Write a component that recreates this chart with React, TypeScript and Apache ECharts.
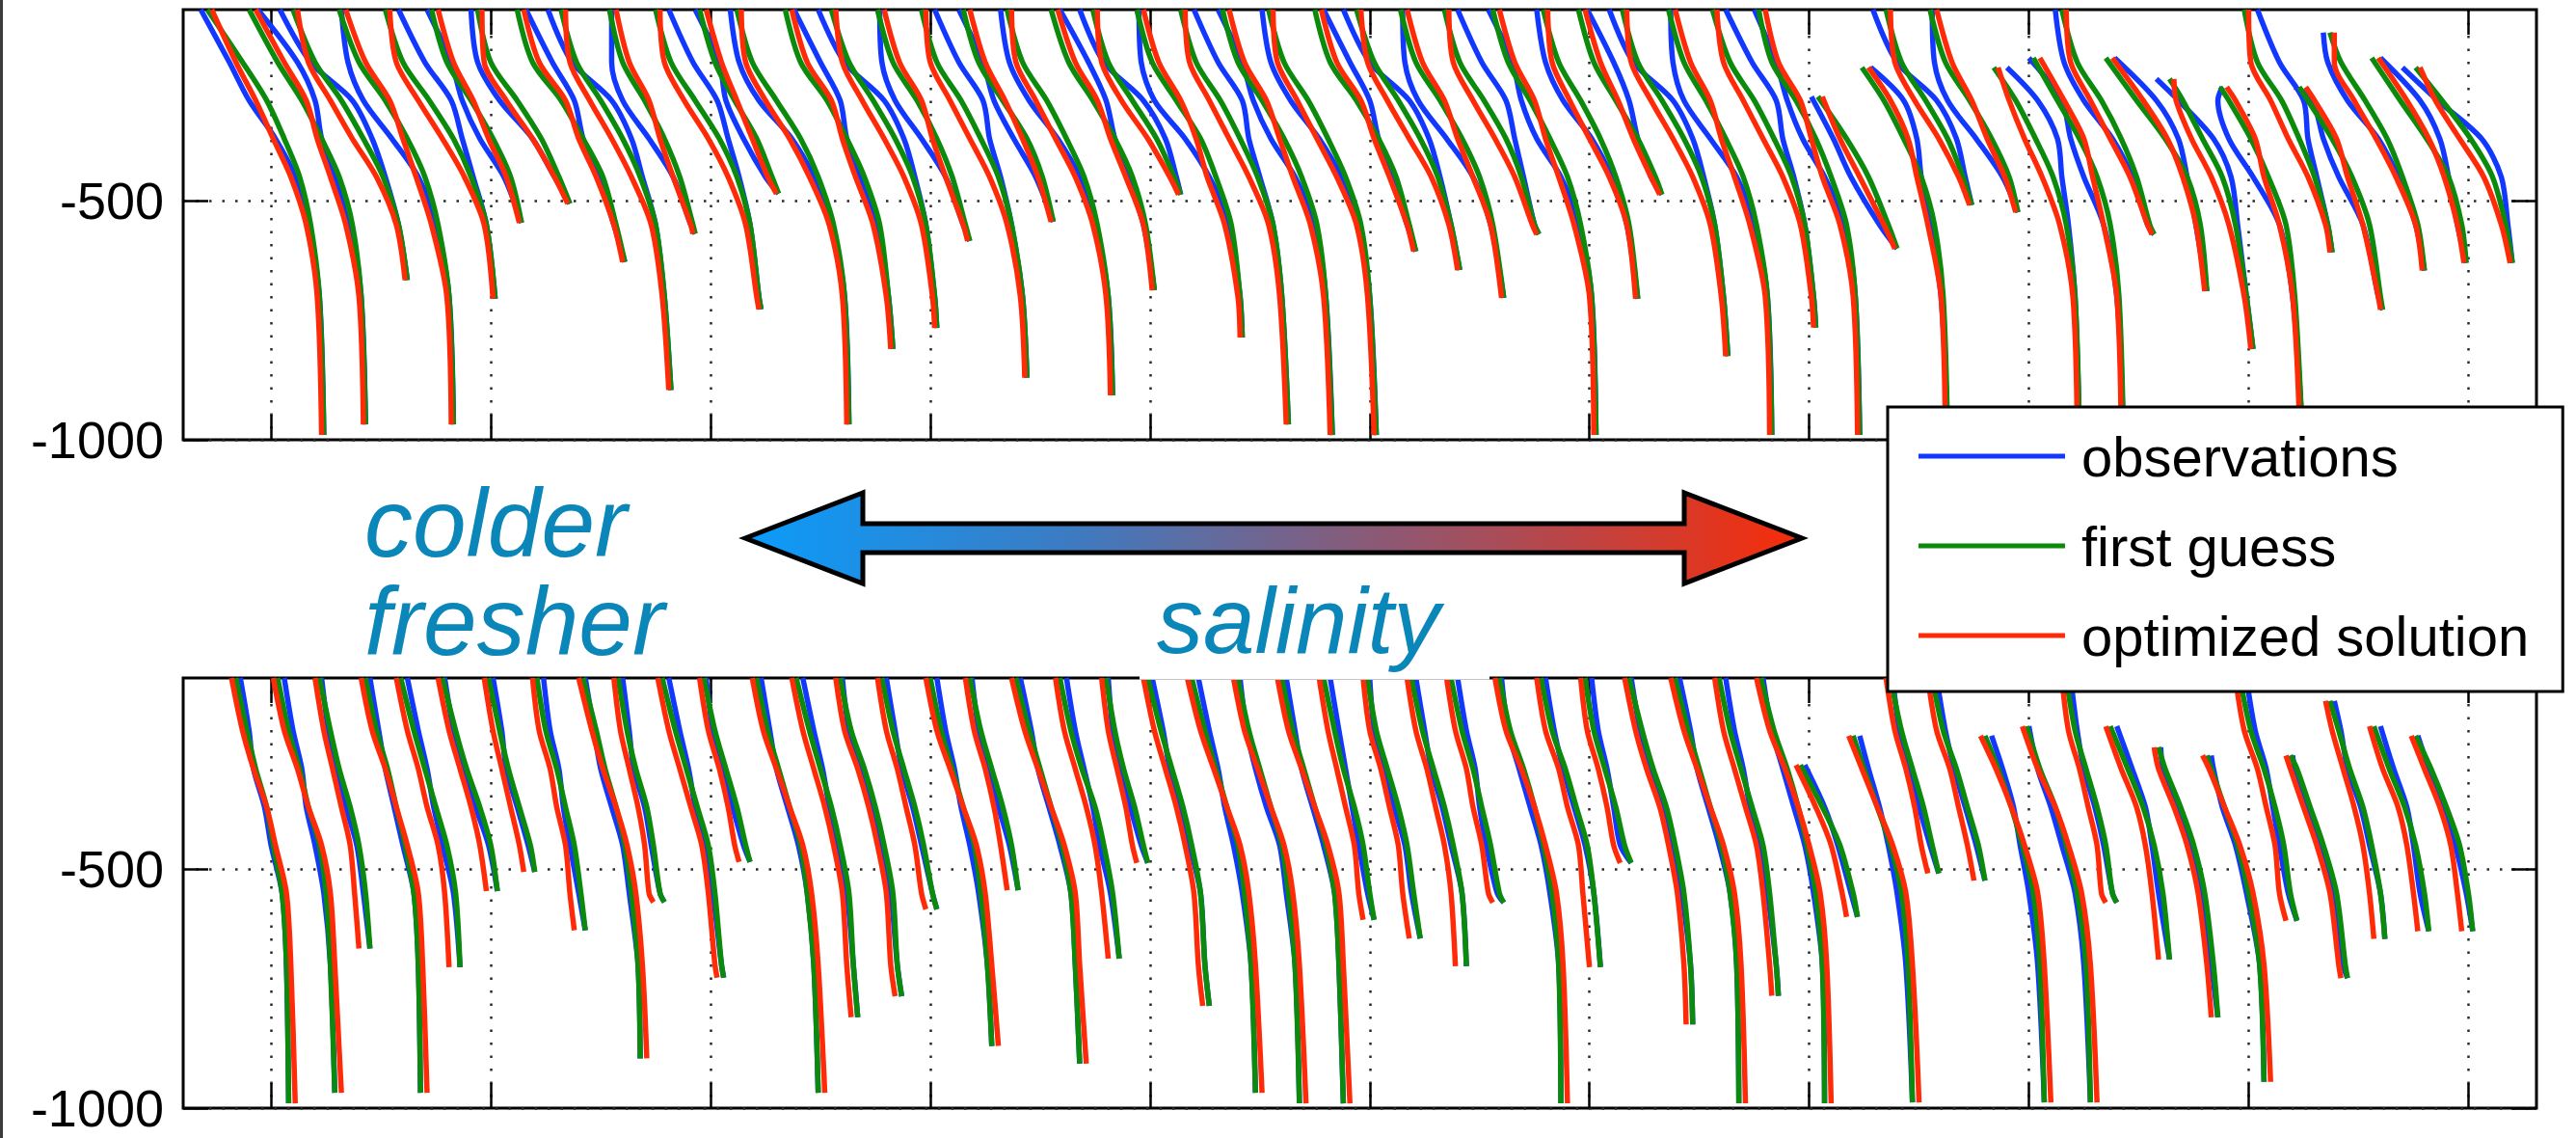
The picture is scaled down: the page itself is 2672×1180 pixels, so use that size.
import React, { useEffect, useRef } from "react";
import * as echarts from "echarts";

// ---- axes ----
const xTickValues = [100, 200, 300, 400, 500, 600, 700, 800, 900, 1000, 1100];
const yTickValues = [-1000, -500];
const depthLevels = [-210, -290, -370, -450, -550, -700];

// ---- casts (shared by both panels) ----
const startDepth = [
  -100, -100, -100, -100, -100, -100, -100, -100, -100, -100, -100, -100, -100, -100, -100, -100, -100, -100,
  -100, -100, -100, -100, -100, -100, -100, -100, -100, -100, -100, -100, -100, -100, -100, -100, -100, -100,
  -282, -221, -100, -100, -221, -201, -100, -201, -245, -262, -100, -262, -148, -201, -221,
];
const endDepth = [
  -990, -968, -666, -968, -705, -546, -506, -628, -896, -569, -727, -485, -968, -810, -766, -584, -870, -544,
  -907, -687, -487, -786, -968, -990, -990, -606, -645, -703, -570, -990, -705, -487, -825, -990, -765, -990,
  -600, -988, -509, -524, -988, -988, -570, -689, -810, -945, -608, -728, -646, -630, -630,
];

// ---- upper panel (temperature) ----
const tempGuess = [
  [71,87,98,106,113,118,122,124],[90,103,114,123,131,137,141,143],[110,120,132,142,151,158,162],
  [131,140,152,162,170,176,181,183],[152,160,172,183,191,198,202],[173,180,191,201,209,214],
  [194,200,212,223,231,236],[212,219,232,242,251,257,261],[232,239,250,260,268,275,279,282],
  [254,260,270,279,286,292,293],[275,282,293,304,312,318,322,323],[295,302,311,321,328,331],
  [312,319,330,341,349,356,361,363],[334,341,353,362,370,377,381,383],[355,363,374,384,392,398,402,403],
  [376,383,394,403,410,416,418],[396,403,414,423,431,437,442,444],[415,422,433,444,451,456],
  [435,442,453,462,470,476,481,483],[455,463,474,484,492,498,502],[474,481,492,503,511,514],
  [494,501,512,523,530,537,541,542],[514,521,532,541,549,556,560,563],[533,540,551,561,569,576,580,583],
  [554,561,572,581,589,596,600,603],[575,582,594,604,612,618,621],[594,602,613,623,631,637,641],
  [614,621,632,642,650,656,661],[634,641,652,662,669,675,677],[656,663,673,682,690,696,701,703],
  [679,686,696,705,712,718,722],[695,702,712,722,730,733],[715,722,733,743,751,757,761,763],
  [736,743,753,762,770,776,781,783],[756,764,775,784,792,798,802,803],[777,783,794,803,810,817,821,823],
  [804,817,827,836,840],[824,834,843,851,857,861,863],[835,842,853,863,870,874],
  [855,862,873,883,891,895],[884,894,903,911,917,921,923],[902,913,923,931,937,941,943],
  [915,922,933,942,949,955,957],[935,949,962,972,978,981],[964,970,979,988,994,999,1002],
  [987,991,1001,1009,1017,1021,1024],[998,1004,1015,1023,1030,1036,1038],[1023,1027,1038,1047,1055,1060,1061],
  [1037,1042,1053,1063,1070,1077,1080],[1056,1069,1081,1091,1097,1099],[1076,1088,1101,1111,1117,1120],
];
const tempOpt = [
  [73,84,93,101,109,116,121,123],[93,106,116,121,127,134,140,142],[112,117,127,137,148,157,161],
  [134,143,154,160,166,173,180,182],[154,157,167,178,188,197,201],[176,183,192,199,207,213],
  [196,197,207,219,229,235],[215,222,234,240,248,256,260],[234,236,245,255,264,273,278,281],
  [257,263,272,277,283,291,292],[277,279,288,299,308,316,321,322],[298,305,312,319,326,330],
  [314,316,325,336,345,354,360,362],[337,344,355,360,366,374,380,382],[357,360,369,379,388,396,401,402],
  [379,386,396,401,407,415,417],[398,400,409,418,427,435,441,443],[418,425,434,442,449,455],
  [437,439,448,457,466,474,480,482],[458,466,476,482,489,497,501],[476,478,487,499,509,513],
  [497,504,514,521,526,534,540,541],[516,518,527,536,545,554,559,562],[536,543,553,559,565,573,579,582],
  [556,558,567,576,585,594,599,602],[578,585,596,602,609,617,620],[596,599,608,618,628,636,640],
  [617,624,634,640,647,655,660],[636,638,647,657,666,674,676],[659,666,675,680,686,693,700,702],
  [681,683,691,700,709,717,721],[698,705,713,720,728,732],[717,719,728,738,747,755,760,762],
  [739,746,755,760,766,773,780,782],[758,761,770,779,788,796,801,802],[780,786,796,801,806,814,820,822],
  [806,814,823,834,839],[827,837,845,849,854,860,862],[837,839,848,859,868,873],
  [858,865,874,881,889,894],[886,891,898,906,914,920,922],[905,916,925,929,934,940,942],
  [917,919,928,937,946,954,956],[938,952,963,970,976,980],[966,967,974,983,991,998,1001],
  [990,994,1003,1007,1014,1020,1023],[1000,1001,1010,1018,1027,1035,1037],[1026,1030,1040,1045,1052,1059,1060],
  [1039,1039,1048,1058,1067,1076,1079],[1059,1072,1082,1089,1095,1098],[1078,1085,1096,1107,1115,1119],
];
const tempObs = [
  [68,81,90,102,111,117,122,124],[94,112,120,123,129,136,141,143],[104,118,137,146,152,158,162],
  [132,135,142,155,167,175,181,183],[158,170,182,187,192,198,202],[171,182,187,195,206,214],
  [191,194,204,219,229,236],[216,228,238,242,249,256,261],[226,237,255,264,269,275,279,282],
  [255,255,260,272,283,291,293],[281,292,303,308,313,318,322,323],[293,304,307,315,325,331],
  [309,313,322,337,347,355,361,363],[338,350,359,362,368,376,381,383],[349,361,379,388,393,398,402,403],
  [377,378,384,396,407,415,418],[402,413,424,427,432,437,442,444],[413,424,429,438,448,456],
  [432,436,445,458,468,475,481,483],[459,472,480,484,490,497,502],[468,479,497,507,512,514],
  [495,496,502,516,527,536,541,542],[520,531,542,545,550,556,560,563],[531,542,547,555,566,575,580,583],
  [551,555,564,577,587,595,600,603],[579,591,600,604,610,617,621],[588,600,618,627,632,637,641],
  [615,616,622,635,647,655,661],[640,651,662,666,670,675,677],[654,665,669,676,687,695,701,703],
  [676,680,688,701,710,717,722],[699,711,718,722,728,733],[709,720,738,747,752,757,761,763],
  [737,738,743,755,767,775,781,783],[762,774,785,788,793,798,802,803],[775,785,790,797,807,816,821,823],
  [801,811,819,832,840],[828,843,849,851,855,860,863],[829,840,858,867,871,874],
  [856,857,863,876,888,895],[890,904,913,915,918,921,923],[900,915,919,925,934,940,943],
  [912,916,925,938,947,954,957],[939,958,968,972,976,981],[958,968,984,992,995,999,1002],
  [988,986,991,1002,1014,1020,1024],[1004,1014,1025,1027,1031,1036,1038],[1021,1029,1034,1041,1052,1059,1061],
  [1034,1036,1045,1059,1068,1076,1080],[1060,1078,1087,1091,1095,1099],[1070,1086,1106,1115,1118,1120],
];

// ---- lower panel (salinity) ----
const salGuess = [
  [84,89,93,98,101,105,107,108],[103,108,113,117,122,125,127,129],[122,127,131,136,140,143,145],
  [143,148,153,157,161,165,167,168],[159,165,170,175,180,184,186],[178,184,189,195,200,203],
  [199,204,208,213,218,220],[221,225,230,234,238,241,243],[242,248,252,257,261,264,267,268],
  [258,262,266,271,274,277,279],[278,284,289,294,299,302,305,306],[297,302,307,312,316,318],
  [321,326,331,336,341,344,347,349],[339,345,350,355,359,363,365,367],[359,364,370,375,379,383,385,387],
  [378,383,388,393,397,401,403],[400,405,410,415,420,423,426,428],[418,423,428,433,437,440],
  [439,445,450,455,460,464,466,468],[459,464,469,475,479,483,486],[480,484,488,493,497,499],
  [499,505,510,515,519,523,525,527],[519,525,530,535,540,543,546,548],[540,545,550,555,560,563,566,568],
  [560,565,570,575,580,584,586,588],[579,584,588,593,597,600,602],[599,603,608,613,617,620,623],
  [619,624,629,634,638,642,644],[637,642,647,651,655,659,661],[659,664,670,675,679,683,686,687],
  [678,683,689,694,699,702,705],[698,702,707,712,716,719],[718,724,729,735,739,743,746,747],
  [739,745,750,755,760,764,767,768],[759,764,769,774,779,782,785,786],[778,784,790,795,799,803,806,807],
  [796,806,814,820,822],[820,825,831,837,842,845,847],[837,842,847,852,856,859],
  [856,861,867,872,877,880],[880,886,892,897,902,905,907],[899,905,912,917,922,926,928],
  [917,921,926,931,935,938,940],[937,945,952,957,961,964],[959,962,969,975,980,984,986],
  [981,983,989,995,1000,1005,1007],[996,1001,1007,1012,1016,1019,1022],[1019,1022,1028,1034,1040,1044,1045],
  [1037,1041,1046,1052,1056,1060,1062],[1057,1064,1071,1076,1080,1082],[1076,1083,1090,1096,1100,1102],
];
const salOpt = [
  [82,87,92,98,102,107,109,111],[101,106,112,117,123,127,129,132],[120,124,128,132,136,138,140],
  [141,146,152,157,162,167,169,171],[157,162,167,171,176,179,181],[176,181,186,191,195,198],
  [197,201,205,209,213,215],[219,222,227,230,234,236,238],[240,246,251,257,262,266,269,271],
  [256,259,263,267,270,272,274],[276,281,286,291,296,299,302,303],[295,299,304,308,311,313],
  [319,324,330,336,342,346,349,352],[337,342,347,352,356,360,362,364],[357,361,367,372,376,380,382,384],
  [376,380,385,389,393,396,398],[398,403,409,415,421,425,428,431],[416,420,425,429,432,435],
  [437,443,449,455,461,466,468,471],[457,461,466,471,475,478,481],[478,481,485,489,492,494],
  [497,502,507,512,516,520,522,524],[517,523,529,535,541,545,548,551],[538,543,549,555,561,565,568,571],
  [558,563,569,575,581,586,588,591],[577,581,585,589,593,595,597],[597,600,605,609,613,615,618],
  [617,621,626,630,634,637,639],[635,639,644,647,651,654,656],[657,662,669,675,680,685,688,690],
  [676,680,686,690,695,697,700],[696,699,704,708,711,714],[716,721,726,732,736,740,743,744],
  [737,743,749,755,761,766,769,771],[757,761,766,771,776,779,782,783],[776,782,789,795,800,805,808,810],
  [794,803,810,815,817],[818,824,831,838,844,847,850],[835,839,844,848,851,854],
  [854,858,864,868,872,875],[878,885,892,898,904,907,910],[897,904,912,918,924,928,931],
  [915,918,923,927,931,933,935],[935,942,949,953,956,959],[957,959,966,972,977,981,983],
  [979,982,989,996,1002,1007,1010],[994,998,1004,1008,1012,1014,1017],[1017,1019,1025,1031,1037,1041,1042],
  [1035,1038,1043,1048,1052,1055,1057],[1055,1061,1068,1072,1075,1077],[1074,1080,1087,1092,1095,1097],
];
const salObs = [
  [86,90,92,97,100,105,107,108],[106,110,114,116,120,124,127,129],[123,126,129,134,139,142,145],
  [145,149,152,156,160,165,167,168],[162,167,171,174,178,183,186],[179,183,187,193,199,203],
  [201,205,207,212,217,220],[224,227,231,233,236,240,243],[243,247,250,255,260,263,267,268],
  [260,263,265,270,273,277,279],[281,286,290,293,297,301,305,306],[298,301,305,310,315,318],
  [323,327,330,335,340,344,347,349],[342,347,351,354,357,362,365,367],[360,363,368,373,378,382,385,387],
  [380,384,387,392,396,401,403],[403,407,411,414,418,422,426,428],[419,422,426,431,436,440],
  [441,446,449,454,459,464,466,468],[462,466,470,474,477,482,486],[481,483,486,491,496,499],
  [501,506,509,514,518,523,525,527],[522,527,531,534,538,542,546,548],[541,544,548,553,559,562,566,568],
  [562,566,569,574,579,584,586,588],[582,586,589,592,595,599,602],[600,602,606,611,616,619,623],
  [621,625,628,633,637,642,644],[640,644,648,650,653,658,661],[660,663,668,673,678,682,686,687],
  [680,684,688,693,698,702,705],[701,704,708,711,714,719],[719,723,727,733,738,742,746,747],
  [741,746,749,754,759,764,767,768],[762,766,770,773,777,781,785,786],[779,783,788,793,798,802,806,807],
  [798,807,813,819,822],[823,827,832,836,840,844,847],[838,841,845,850,855,859],
  [858,862,866,871,876,880],[883,888,893,896,900,904,907],[900,904,910,915,921,925,928],
  [919,922,925,930,934,938,940],[940,947,953,956,959,964],[960,961,967,973,979,983,986],
  [983,984,988,994,999,1005,1007],[999,1003,1008,1011,1014,1018,1022],[1020,1021,1026,1032,1039,1043,1045],
  [1039,1042,1045,1051,1055,1060,1062],[1060,1066,1072,1075,1078,1082],[1077,1082,1088,1094,1099,1102],
];

const seriesNames = ["observations", "first guess", "optimized solution"];
const seriesColors = ["#1238ff", "#0c8a0c", "#ff2b08"];

const FONT = '"Liberation Sans", Arial, Helvetica, sans-serif';

function castDepths(i: number): number[] {
  const s = startDepth[i];
  const e = endDepth[i];
  return [s, ...depthLevels.filter((l) => l < s - 15 && l > e + 15), e];
}

function toLineData(casts: number[][]): any[] {
  const out: any[] = [];
  casts.forEach((xs, i) => {
    const d = castDepths(i);
    const n = Math.min(d.length, xs.length);
    for (let k = 0; k < n; k++) out.push([xs[k], d[k]]);
    out.push(["-", "-"]);
  });
  return out;
}

function buildOption() {
  const dotted = { color: "#2a2a2a", width: 2.5, type: [2.5, 11] as any };
  const tickStyle = { color: "#000", width: 2.5 };
  const grids = [
    { left: 190, top: 10, width: 2441, height: 446 },
    { left: 190, top: 703, width: 2441, height: 446 },
  ].map((g) => ({
    ...g,
    show: true,
    borderColor: "#000",
    borderWidth: 3,
    backgroundColor: "transparent",
    containLabel: false,
    outerBoundsMode: "none",
  }));

  const xAxes: any[] = [];
  const yAxes: any[] = [];
  [0, 1].forEach((gi) => {
    const xBase = {
      type: "value",
      gridIndex: gi,
      min: 60,
      max: 1131,
      axisLine: { show: false },
      axisLabel: { show: false },
      axisTick: { show: true, inside: true, length: 26, customValues: xTickValues, lineStyle: tickStyle },
    };
    xAxes.push({ ...xBase, position: "bottom", splitLine: { show: true, lineStyle: dotted } });
    xAxes.push({ ...xBase, position: "top", splitLine: { show: false } });
    const yBase = {
      type: "value",
      gridIndex: gi,
      min: -1000,
      max: -100,
      axisLine: { show: false },
      axisTick: { show: true, inside: true, length: 26, customValues: yTickValues, lineStyle: tickStyle },
    };
    yAxes.push({
      ...yBase,
      position: "left",
      axisLabel: {
        show: true,
        customValues: yTickValues,
        formatter: (v: number) => String(v),
        fontSize: 54,
        fontFamily: FONT,
        color: "#000",
        margin: 20,
      },
      splitLine: { show: true, lineStyle: dotted },
    });
    yAxes.push({ ...yBase, position: "right", axisLabel: { show: false }, splitLine: { show: false } });
  });

  const panels = [
    [tempObs, tempGuess, tempOpt],
    [salObs, salGuess, salOpt],
  ];
  const series: any[] = [];
  panels.forEach((sets, gi) => {
    sets.forEach((casts, si) => {
      series.push({
        type: "line",
        name: seriesNames[si],
        xAxisIndex: gi * 2,
        yAxisIndex: gi * 2,
        data: toLineData(casts),
        showSymbol: false,
        symbol: "none",
        smooth: 0.3,
        connectNulls: false,
        clip: true,
        silent: true,
        z: 2 + si,
        lineStyle: { color: seriesColors[si], width: 5.5, cap: "butt", join: "round" },
        itemStyle: { color: seriesColors[si] },
      });
    });
  });

  const arrowGradient = new echarts.graphic.LinearGradient(0, 0, 1, 0, [
    { offset: 0, color: "#0a9cfa" },
    { offset: 0.3, color: "#3b7cc4" },
    { offset: 0.5, color: "#72648e" },
    { offset: 0.7, color: "#a64e5c" },
    { offset: 1, color: "#f72c08" },
  ]);

  const textColor = "#0b86b9";

  return {
    animation: false,
    backgroundColor: "#fff",
    grid: grids,
    xAxis: xAxes,
    yAxis: yAxes,
    series,
    legend: {
      data: seriesNames,
      orient: "vertical",
      left: 1958,
      top: 422,
      icon: "rect",
      itemWidth: 152,
      itemHeight: 5,
      itemGap: 35,
      padding: [22, 35, 29, 32],
      backgroundColor: "#fff",
      borderColor: "#000",
      borderWidth: 3,
      selectedMode: false,
      z: 20,
      textStyle: { fontSize: 58, fontFamily: FONT, color: "#000", padding: [0, 0, 0, 12] },
    },
    graphic: [
      { type: "rect", shape: { x: 0, y: 0, width: 3, height: 1180 }, style: { fill: "#3c3c3c" }, z: 100 },
      {
        type: "rect",
        shape: { x: 1182, y: 600, width: 363, height: 105 },
        style: { fill: "#fff" },
        z: 50,
      },
      {
        type: "line",
        shape: { x1: 1182, y1: 704.5, x2: 1545, y2: 704.5 },
        style: { stroke: "#c4c4c4", lineWidth: 1 },
        z: 51,
      },
      {
        type: "polygon",
        shape: {
          points: [
            [773, 558], [895, 511], [895, 543], [1747, 543], [1747, 511],
            [1869, 558], [1747, 605], [1747, 573], [895, 573], [895, 605],
          ],
        },
        style: { fill: arrowGradient, stroke: "#000", lineWidth: 5, lineJoin: "miter" },
        z: 60,
      },
      {
        type: "text",
        x: 378,
        y: 542,
        style: { text: "colder", fill: textColor, font: `italic 100px ${FONT}`, align: "left", verticalAlign: "middle" },
        z: 60,
      },
      {
        type: "text",
        x: 378,
        y: 644,
        style: { text: "fresher", fill: textColor, font: `italic 100px ${FONT}`, align: "left", verticalAlign: "middle" },
        z: 60,
      },
      {
        type: "text",
        x: 1200,
        y: 643,
        style: { text: "salinity", fill: textColor, font: `italic 96px ${FONT}`, align: "left", verticalAlign: "middle" },
        z: 60,
      },
    ],
  };
}

export default function App() {
  const ref = useRef<HTMLDivElement | null>(null);
  useEffect(() => {
    if (!ref.current) return;
    const chart = echarts.init(ref.current, null, { renderer: "svg" });
    chart.setOption(buildOption() as any);
    return () => chart.dispose();
  }, []);
  return (
    <div
      ref={ref}
      style={{ position: "fixed", left: 0, top: 0, width: 2672, height: 1180, background: "#fff" }}
    />
  );
}
